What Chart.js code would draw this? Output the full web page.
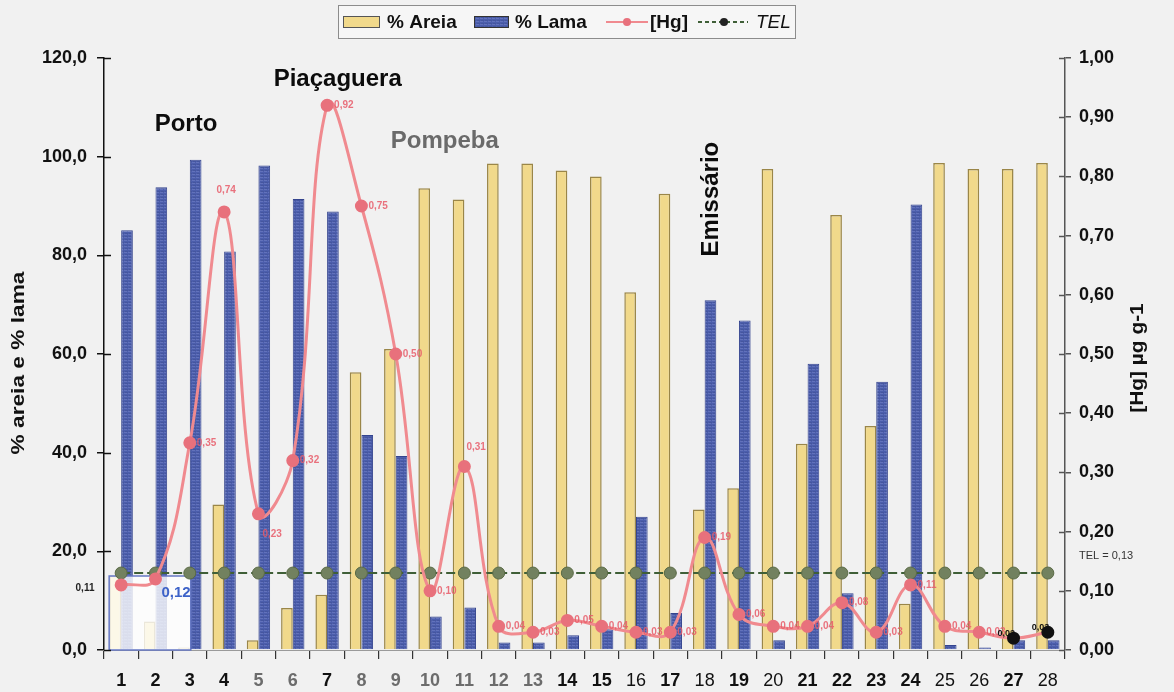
<!DOCTYPE html>
<html>
<head>
<meta charset="utf-8">
<script src="https://cdn.jsdelivr.net/npm/chart.js@4.4.1/dist/chart.umd.min.js"></script>
<style>
  html, body { margin: 0; padding: 0; background: #f1f1f1; }
  #wrap { position: relative; width: 1174px; height: 692px; }
  canvas { display: block; }
</style>
</head>
<body>
<div id="wrap"><canvas id="chart" width="1174" height="692"></canvas></div>
<script>
// ---- data -------------------------------------------------------------
const stations = ['1','2','3','4','5','6','7','8','9','10','11','12','13','14',
                  '15','16','17','18','19','20','21','22','23','24','25','26','27','28'];

// grain size (%)
const areia = [15.0, 5.8, 0.5, 29.5, 2.0, 8.5, 11.2, 56.3, 61.0, 93.6, 91.3, 98.6, 98.6, 97.2,
               96.0, 72.5, 92.5, 28.5, 32.8, 97.5, 41.8, 88.2, 45.4, 9.4, 98.7, 97.5, 97.5, 98.7];
const lama  = [85.1, 93.8, 99.4, 80.8, 98.2, 91.4, 88.9, 43.6, 39.3, 6.8, 8.6, 1.5, 1.5, 3.0,
               4.2, 27.0, 7.5, 70.9, 66.8, 2.0, 58.0, 11.5, 54.4, 90.3, 1.0, 0.5, 2.0, 2.0];

// mercury (µg g-1)
const hg  = [0.11, 0.12, 0.35, 0.74, 0.23, 0.32, 0.92, 0.75, 0.50, 0.10, 0.31, 0.04, 0.03, 0.05,
             0.04, 0.03, 0.03, 0.19, 0.06, 0.04, 0.04, 0.08, 0.03, 0.11, 0.04, 0.03, 0.02, 0.03];
const telValue = 0.13;
const tel = [0.13, 0.13, 0.13, 0.13, 0.13, 0.13, 0.13, 0.13, 0.13, 0.13, 0.13, 0.13, 0.13, 0.13,
             0.13, 0.13, 0.13, 0.13, 0.13, 0.13, 0.13, 0.13, 0.13, 0.13, 0.13, 0.13, 0.13, 0.13];

const leftTicks  = [0, 20, 40, 60, 80, 100, 120];
const rightTicks = [0, 0.1, 0.2, 0.3, 0.4, 0.5, 0.6, 0.7, 0.8, 0.9, 1.0];

// site names written over the bars: [text, station position, % value, style]
const sites = [
  ['Porto',       1.89, 106.6, 'black'],
  ['Piaçaguera',  6.31, 115.7, 'black'],
  ['Pompeba',     9.43, 103.1, 'grey'],
  ['Emissário',  17.20,  91.4, 'vertical']
];

// ---- styling ------------------------------------------------------------
const FONT = '"Liberation Sans", Arial, Helvetica, sans-serif';
const AREIA_FILL = '#f1d98b';
const AREIA_EDGE = '#9a8648';
const LAMA_EDGE  = '#34448e';
const HG_LINE    = '#f08a8f';
const HG_POINT   = '#e8717c';
const TEL_LINE   = '#3f5f37';
const TEL_POINT  = '#72815f';

// where each [Hg] value label sits relative to its point
const hgLabelPos = ['outside','box','r','t','br','r','r','r','r','r','tr','r','r','r',
                    'r','r','r','r','r','r','r','r','r','r','r','r','dark','dark'];
const hgPointColors = hg.map((v, i) => hgLabelPos[i] === 'dark' ? '#111111' : HG_POINT);

// x tick label look
const greyTicks  = ['5','6','8','9','10','11','12','13'];
const lightTicks = ['16','18','20','25','26','28'];

function lamaPattern() {
  const c = document.createElement('canvas');
  c.width = 4; c.height = 3;
  const g = c.getContext('2d');
  g.fillStyle = '#4c5eac';
  g.fillRect(0, 0, 4, 3);
  g.fillStyle = '#6272bb';
  g.fillRect(0, 0, 3, 1);
  g.fillStyle = '#45569f';
  g.fillRect(1, 2, 3, 1);
  return g.createPattern(c, 'repeat');
}

const fmt = (v, d) => v.toFixed(d).replace('.', ',');

// ---- plugins -------------------------------------------------------------
// white note box over the first stations, drawn between the bars and lines
const noteBox = {
  id: 'noteBox',
  afterDatasetDraw(chart, args) {
    if (args.index !== 0) return;
    const { ctx, scales } = chart;
    const x0 = scales.x.getPixelForValue(0) - 12;
    const x1 = scales.x.getPixelForValue(2) + 1;
    const yTop = scales.y.getPixelForValue(areia[0]);
    const yBot = scales.y.getPixelForValue(0);
    ctx.save();
    ctx.fillStyle = 'rgba(255,255,255,0.8)';
    ctx.fillRect(x0, yTop, x1 - x0, yBot - yTop);
    ctx.strokeStyle = '#6577c4';
    ctx.lineWidth = 1.5;
    ctx.strokeRect(x0, yTop, x1 - x0, yBot - yTop);
    ctx.restore();
  }
};

// inner half of the cross ticks on both vertical axes
const crossTicks = {
  id: 'crossTicks',
  afterDraw(chart) {
    const { ctx, scales, chartArea } = chart;
    ctx.save();
    ctx.lineWidth = 1.5;
    ctx.strokeStyle = '#111';
    scales.y.ticks.forEach(t => {
      const y = Math.round(scales.y.getPixelForValue(t.value)) + 0.5;
      ctx.beginPath(); ctx.moveTo(chartArea.left, y); ctx.lineTo(chartArea.left + 7, y); ctx.stroke();
    });
    ctx.strokeStyle = '#555';
    scales.y1.ticks.forEach(t => {
      const y = Math.round(scales.y1.getPixelForValue(t.value)) + 0.5;
      ctx.beginPath(); ctx.moveTo(chartArea.right - 6, y); ctx.lineTo(chartArea.right, y); ctx.stroke();
    });
    ctx.restore();
  }
};

// value labels, site names, axis titles and the legend
const textLayer = {
  id: 'textLayer',
  afterDraw(chart) {
    const { ctx, scales, chartArea } = chart;
    const xs = scales.x, ys = scales.y, y1 = scales.y1;
    ctx.save();

    // [Hg] value labels
    const meta = chart.getDatasetMeta(3);
    meta.data.forEach((pt, i) => {
      const txt = fmt(hg[i], 2);
      const pos = hgLabelPos[i];
      ctx.textBaseline = 'middle';
      ctx.font = 'bold 10px ' + FONT;
      ctx.fillStyle = 'rgba(232,90,105,0.85)';
      ctx.textAlign = 'left';
      let x = pt.x + 7, y = pt.y;
      if (pos === 't') { ctx.textAlign = 'center'; x = pt.x + 2; y = pt.y - 22; }
      else if (pos === 'br') { x = pt.x + 4; y = pt.y + 20; }
      else if (pos === 'tr') { x = pt.x + 2; y = pt.y - 19; }
      else if (pos === 'outside') {
        ctx.textAlign = 'center'; ctx.fillStyle = '#222'; x = chartArea.left - 19; y = pt.y + 3;
      } else if (pos === 'box') {
        ctx.font = 'bold 15px ' + FONT; ctx.fillStyle = '#3d62c8'; x = pt.x + 6; y = pt.y + 14;
      } else if (pos === 'dark') {
        ctx.font = 'bold 9px ' + FONT; ctx.fillStyle = '#111'; x = pt.x - 16; y = pt.y - 5;
      }
      ctx.fillText(txt, x, y);
    });

    // TEL note on the right
    ctx.font = '11px ' + FONT;
    ctx.fillStyle = '#333';
    ctx.textAlign = 'left';
    ctx.textBaseline = 'middle';
    ctx.fillText('TEL = ' + fmt(telValue, 2), chartArea.right + 14, y1.getPixelForValue(telValue) - 17);

    // site names
    sites.forEach(([name, pos, val, style]) => {
      const x = xs.getPixelForValue(pos), y = ys.getPixelForValue(val);
      ctx.save();
      ctx.translate(x, y);
      ctx.textAlign = 'center';
      ctx.textBaseline = 'middle';
      ctx.font = 'bold 24px ' + FONT;
      ctx.fillStyle = style === 'grey' ? '#6a6a6a' : '#0c0c0c';
      if (style === 'vertical') ctx.rotate(-Math.PI / 2);
      ctx.fillText(name, 0, 0);
      ctx.restore();
    });

    // axis titles (slightly elongated along the text direction)
    ctx.font = 'bold 18px ' + FONT;
    ctx.fillStyle = '#111';
    ctx.textAlign = 'center';
    ctx.textBaseline = 'middle';
    ctx.save();
    ctx.translate(19, (chartArea.top + chartArea.bottom) / 2 + 9);
    ctx.rotate(-Math.PI / 2);
    ctx.scale(1.26, 1);
    ctx.fillText('% areia e % lama', 0, 0);
    ctx.restore();
    ctx.save();
    ctx.translate(1138, (chartArea.top + chartArea.bottom) / 2 + 4);
    ctx.rotate(-Math.PI / 2);
    ctx.scale(1.16, 1);
    ctx.fillText('[Hg] µg g-1', 0, 0);
    ctx.restore();

    // legend
    const ly = 22;
    ctx.fillStyle = '#f6f6f6';
    ctx.fillRect(338.5, 5.5, 457, 33);
    ctx.strokeStyle = '#8c8c8c';
    ctx.lineWidth = 1;
    ctx.strokeRect(338.5, 5.5, 457, 33);

    ctx.fillStyle = AREIA_FILL;
    ctx.fillRect(343.5, 16.5, 36, 11);
    ctx.strokeStyle = '#555';
    ctx.strokeRect(343.5, 16.5, 36, 11);

    ctx.fillStyle = chart.data.datasets[1].backgroundColor;
    ctx.fillRect(474.5, 16.5, 34, 11);
    ctx.strokeStyle = '#333';
    ctx.strokeRect(474.5, 16.5, 34, 11);

    ctx.strokeStyle = HG_LINE;
    ctx.lineWidth = 2;
    ctx.beginPath(); ctx.moveTo(606, ly); ctx.lineTo(648, ly); ctx.stroke();
    ctx.fillStyle = HG_POINT;
    ctx.beginPath(); ctx.arc(627, ly, 4, 0, Math.PI * 2); ctx.fill();

    ctx.strokeStyle = TEL_LINE;
    ctx.setLineDash([4, 3]);
    ctx.beginPath(); ctx.moveTo(698, ly); ctx.lineTo(748, ly); ctx.stroke();
    ctx.setLineDash([]);
    ctx.fillStyle = '#222';
    ctx.beginPath(); ctx.arc(724, ly, 4, 0, Math.PI * 2); ctx.fill();

    ctx.fillStyle = '#111';
    ctx.textAlign = 'left';
    ctx.textBaseline = 'middle';
    ctx.font = 'bold 19px ' + FONT;
    ctx.fillText('% Areia', 387, ly + 1);
    ctx.fillText('% Lama', 515, ly + 1);
    ctx.fillText('[Hg]', 650, ly + 1);
    ctx.font = 'italic 19px ' + FONT;
    ctx.fillText('TEL', 756, ly + 1);

    ctx.restore();
  }
};

// ---- chart -----------------------------------------------------------------
const ctx = document.getElementById('chart').getContext('2d');
new Chart(ctx, {
  data: {
    labels: stations,
    datasets: [
      {
        type: 'bar', label: '% Areia', data: areia, yAxisID: 'y', order: 2,
        backgroundColor: AREIA_FILL, borderColor: AREIA_EDGE, borderWidth: 1.5,
        categoryPercentage: 0.68, barPercentage: 1.0
      },
      {
        type: 'bar', label: '% Lama', data: lama, yAxisID: 'y', order: 3,
        backgroundColor: lamaPattern(), borderColor: LAMA_EDGE, borderWidth: 1,
        categoryPercentage: 0.68, barPercentage: 1.0
      },
      {
        type: 'line', label: 'TEL', data: tel, yAxisID: 'y1', order: 1,
        borderColor: TEL_LINE, borderWidth: 2, borderDash: [9, 4],
        pointRadius: 6, pointBackgroundColor: TEL_POINT, pointBorderColor: '#5a6a45',
        pointBorderWidth: 1, fill: false, tension: 0
      },
      {
        type: 'line', label: '[Hg]', data: hg, yAxisID: 'y1', order: 0,
        borderColor: HG_LINE, borderWidth: 3, tension: 0.4,
        pointRadius: 5, pointBackgroundColor: hgPointColors, pointBorderColor: hgPointColors,
        fill: false
      }
    ]
  },
  options: {
    responsive: false,
    animation: false,
    layout: { padding: { top: 58, left: 0, right: 0, bottom: 0 } },
    plugins: { legend: { display: false }, tooltip: { enabled: false } },
    scales: {
      x: {
        type: 'category',
        offset: true,
        afterFit: s => { s.height = 42; },
        grid: { display: true, offset: true, drawOnChartArea: false, tickLength: 9,
                color: '#333', lineWidth: 1.2 },
        border: { display: true, color: '#9a9a9a', width: 1 },
        ticks: {
          padding: 11, maxRotation: 0, autoSkip: false,
          color: c => greyTicks.includes(stations[c.index]) ? '#6c6c6c' : '#111',
          font: c => ({ family: FONT, size: 18,
                        weight: lightTicks.includes(stations[c.index]) ? 'normal' : 'bold' })
        }
      },
      y: {
        position: 'left',
        min: 0, max: 120,
        afterFit: s => { s.width = 104; },
        afterBuildTicks: s => { s.ticks = leftTicks.map(v => ({ value: v })); },
        grid: { drawOnChartArea: false, tickLength: 7, color: '#111', lineWidth: 1.5 },
        border: { color: '#111', width: 1.5 },
        ticks: {
          padding: 10, color: '#111',
          font: { family: FONT, size: 18, weight: 'bold' },
          callback: v => fmt(v, 1)
        }
      },
      y1: {
        position: 'right',
        min: 0, max: 1,
        afterFit: s => { s.width = 109; },
        afterBuildTicks: s => { s.ticks = rightTicks.map(v => ({ value: v })); },
        grid: { drawOnChartArea: false, tickLength: 6, color: '#555', lineWidth: 1.5 },
        border: { color: '#555', width: 1.5 },
        ticks: {
          padding: 8, color: '#111',
          font: { family: FONT, size: 18, weight: 'bold' },
          callback: v => fmt(v, 2)
        }
      }
    }
  },
  plugins: [noteBox, crossTicks, textLayer]
});
</script>
</body>
</html>
